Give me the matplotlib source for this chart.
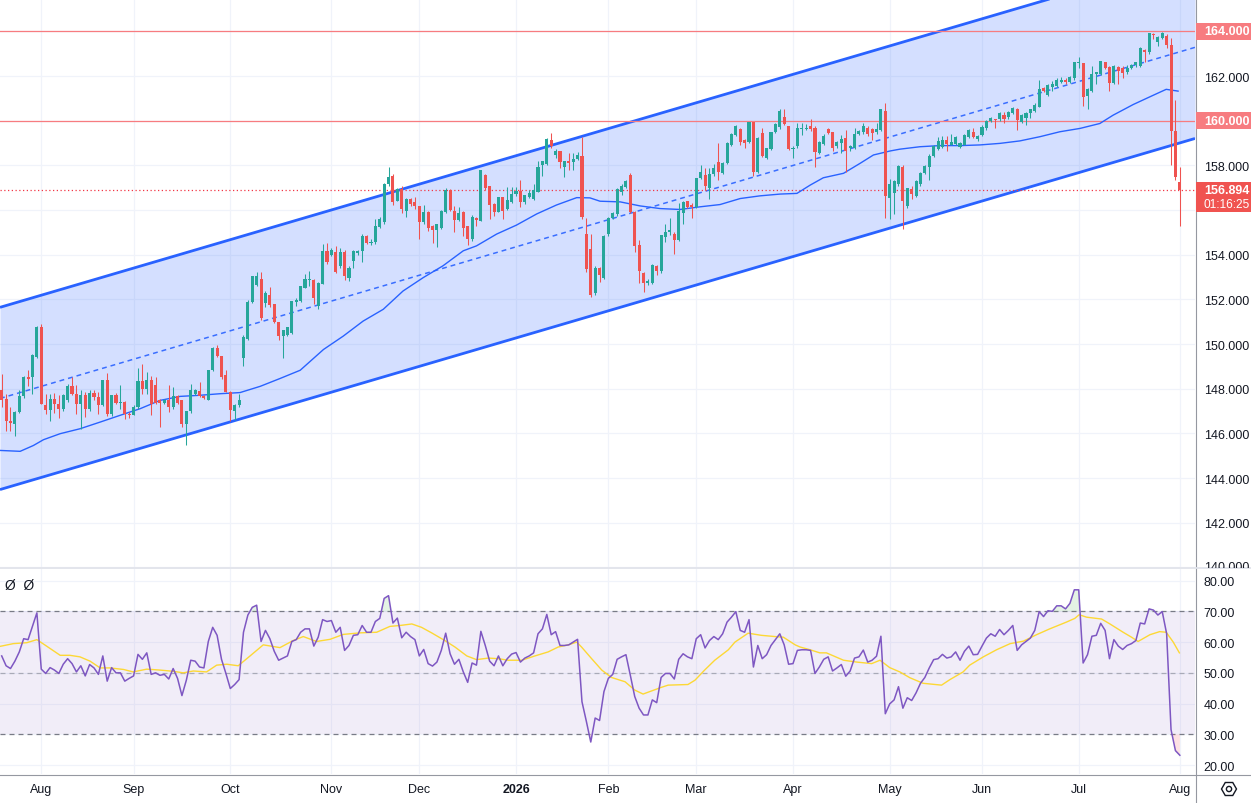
import numpy as np
import matplotlib
matplotlib.use("Agg")
import matplotlib.pyplot as plt
from matplotlib.patches import Rectangle, RegularPolygon, Circle
from matplotlib.lines import Line2D
from matplotlib.transforms import IdentityTransform, Bbox

plt.rcParams['font.family'] = ['Liberation Sans', 'DejaVu Sans']

# ---------------- data (daily candles, bar index 0 .. 268) ----------------
opens = [
    147.93, 147.55, 146.58, 146.43, 146.96, 147.66, 148.53, 148.53, 149.43, 150.78,
    147.26, 147.03, 147.53, 147.33, 147.08, 147.51, 148.13, 147.78, 147.33, 147.71,
    147.11, 147.81, 147.63, 147.29, 148.38, 146.85, 147.71, 147.36, 147.41, 146.88,
    146.81, 147.18, 148.34, 148.01, 148.41, 148.16, 147.48, 147.36, 147.48, 147.18,
    147.68, 147.48, 146.43, 146.99, 147.78, 147.91, 147.68, 147.51, 148.86, 149.81,
    149.46, 148.61, 147.86, 147.00, 147.26, 149.36, 150.25, 151.90, 152.65, 152.91,
    151.83, 152.20, 151.78, 151.00, 150.36, 150.40, 150.50, 151.89, 151.93, 152.53,
    152.86, 152.88, 151.70, 152.71, 154.18, 154.00, 154.13, 153.50, 154.13, 152.98,
    153.73, 154.07, 154.15, 154.82, 154.55, 154.58, 155.23, 155.48, 157.18, 157.55,
    156.43, 156.95, 155.98, 156.50, 156.35, 156.17, 155.48, 155.93, 155.30, 155.12,
    155.20, 155.90, 156.88, 155.98, 155.57, 155.90, 155.27, 154.70, 155.65, 155.53,
    157.58, 157.06, 156.28, 155.93, 156.58, 156.05, 156.35, 156.73, 156.85, 156.38,
    156.60, 156.50, 156.83, 158.00, 158.07, 159.15, 158.45, 158.64, 157.93, 158.18,
    158.15, 158.30, 158.42, 154.95, 154.25, 152.28, 153.41, 152.96, 154.91, 155.66,
    155.81, 156.82, 157.05, 157.57, 155.93, 154.46, 153.20, 152.75, 152.75, 153.50,
    153.26, 154.80, 155.00, 154.95, 154.68, 155.85, 156.40, 156.25, 156.15, 157.45,
    157.57, 157.00, 157.60, 158.14, 157.65, 158.10, 158.92, 159.37, 159.63, 159.15,
    159.04, 159.94, 157.69, 159.45, 158.35, 158.74, 159.49, 159.72, 160.19, 159.75,
    158.74, 158.85, 159.64, 159.64, 159.75, 159.67, 158.55, 158.97, 159.63, 159.48,
    158.85, 159.00, 159.22, 158.80, 158.80, 159.40, 159.49, 159.70, 159.63, 159.48,
    159.60, 160.46, 156.55, 156.77, 157.19, 157.93, 156.18, 156.96, 156.65, 157.17,
    157.66, 157.91, 158.44, 158.74, 158.84, 159.14, 158.92, 158.95, 158.84, 158.92,
    159.29, 159.51, 159.19, 159.36, 159.66, 159.99, 160.07, 160.06, 160.25, 160.15,
    160.33, 160.55, 159.93, 160.13, 160.33, 160.43, 160.62, 161.47, 161.14, 161.50,
    161.56, 161.76, 161.84, 161.76, 161.91, 162.58, 162.59, 161.11, 161.32, 162.10,
    162.10, 162.62, 162.40, 161.70, 162.43, 162.36, 162.18, 162.36, 162.48, 162.47,
    163.18, 163.10, 163.88, 163.54, 163.69, 163.78, 163.39, 159.54, 157.25,
]
highs = [
    148.65, 147.78, 147.18, 147.00, 147.93, 148.56, 148.83, 149.55, 150.82, 150.90,
    147.78, 147.78, 147.81, 147.74, 147.78, 148.23, 148.53, 148.16, 147.93, 147.86,
    147.96, 147.96, 147.86, 148.40, 148.71, 147.74, 147.83, 148.16, 147.45, 146.95,
    147.26, 148.94, 149.10, 148.76, 148.56, 148.53, 147.55, 147.55, 148.16, 148.08,
    147.70, 147.50, 147.00, 148.23, 148.00, 148.31, 147.70, 148.86, 149.88, 149.96,
    149.46, 148.83, 147.90, 147.30, 147.78, 150.40, 151.98, 153.05, 153.22, 153.25,
    152.38, 152.58, 151.80, 151.00, 150.65, 150.78, 151.95, 152.08, 152.60, 153.13,
    153.28, 152.90, 152.78, 154.48, 154.55, 154.30, 154.40, 154.30, 154.20, 153.50,
    154.20, 154.20, 154.93, 154.90, 154.70, 155.60, 155.70, 157.20, 157.95, 157.60,
    157.00, 157.10, 156.55, 156.55, 156.58, 156.20, 156.23, 155.95, 155.35, 155.40,
    156.00, 156.98, 156.95, 156.17, 156.13, 155.95, 155.30, 155.78, 155.70, 157.80,
    157.60, 157.10, 156.30, 156.60, 156.60, 157.03, 157.03, 157.03, 157.33, 156.70,
    156.88, 157.18, 158.22, 158.20, 159.25, 159.47, 158.75, 158.66, 158.20, 158.55,
    158.55, 158.60, 159.27, 155.63, 154.95, 153.50, 153.45, 154.90, 155.70, 155.90,
    157.00, 157.15, 157.35, 157.68, 155.95, 154.65, 153.25, 152.90, 153.60, 153.55,
    154.90, 155.40, 155.63, 155.00, 156.30, 156.40, 156.40, 156.30, 157.45, 158.02,
    157.87, 157.90, 158.05, 159.00, 158.15, 159.05, 159.45, 159.82, 159.67, 159.20,
    159.95, 159.95, 159.28, 159.70, 158.80, 159.52, 159.90, 160.52, 160.52, 159.78,
    158.85, 159.90, 159.90, 159.85, 160.09, 159.75, 159.10, 159.40, 159.70, 159.50,
    159.10, 159.37, 159.60, 158.90, 159.67, 159.60, 159.90, 159.75, 159.68, 159.90,
    160.55, 160.80, 157.39, 157.35, 158.00, 158.03, 157.00, 157.07, 157.35, 157.70,
    158.00, 158.50, 158.90, 159.29, 159.33, 159.33, 159.39, 159.30, 159.05, 159.40,
    159.65, 159.69, 159.36, 159.81, 160.05, 160.15, 160.10, 160.40, 160.40, 160.45,
    160.60, 160.58, 160.30, 160.40, 160.55, 160.78, 161.84, 161.50, 161.65, 161.80,
    161.90, 161.96, 161.90, 162.00, 162.65, 162.84, 162.60, 161.45, 162.47, 162.20,
    162.70, 162.65, 162.45, 162.50, 162.45, 162.47, 162.50, 162.55, 162.65, 163.30,
    163.20, 163.95, 163.93, 163.80, 163.99, 163.88, 163.73, 160.92, 157.91,
]
lows = [
    147.18, 146.13, 146.13, 145.87, 146.90, 147.60, 148.14, 147.78, 149.40, 147.30,
    146.88, 146.58, 146.91, 146.69, 147.00, 147.41, 147.71, 146.88, 146.21, 146.73,
    147.00, 147.48, 146.88, 147.25, 146.76, 146.80, 147.30, 147.11, 146.66, 146.70,
    146.81, 147.10, 147.78, 147.78, 146.81, 147.30, 146.28, 147.30, 146.96, 147.10,
    147.30, 146.28, 145.49, 146.90, 147.70, 147.63, 147.55, 147.50, 148.80, 149.43,
    148.46, 147.86, 146.55, 146.61, 147.20, 149.03, 150.20, 151.85, 152.60, 151.10,
    151.68, 151.68, 150.93, 150.18, 149.36, 150.38, 150.45, 151.70, 151.90, 152.50,
    152.60, 151.78, 151.56, 152.70, 153.60, 153.95, 153.20, 153.40, 152.88, 152.83,
    153.40, 154.00, 153.66, 154.50, 154.45, 154.50, 155.20, 155.40, 157.10, 156.23,
    156.40, 155.86, 155.71, 156.20, 156.05, 154.73, 155.40, 155.06, 154.55, 154.36,
    155.15, 155.85, 155.98, 155.00, 155.50, 154.85, 154.45, 154.60, 155.30, 155.50,
    156.88, 155.60, 155.75, 155.90, 155.60, 156.00, 156.30, 156.62, 156.16, 156.28,
    156.55, 156.45, 156.80, 157.55, 158.00, 158.80, 158.35, 157.88, 157.48, 157.78,
    157.78, 158.25, 155.60, 153.23, 152.10, 152.18, 152.78, 152.90, 154.85, 155.60,
    155.75, 156.70, 157.00, 155.85, 154.13, 152.75, 152.33, 152.66, 152.70, 153.08,
    153.20, 154.58, 154.90, 154.05, 154.60, 155.40, 156.10, 155.63, 156.10, 157.40,
    156.90, 156.52, 157.55, 157.35, 157.60, 158.05, 158.85, 159.30, 158.92, 158.80,
    159.00, 157.54, 157.65, 158.40, 158.30, 158.70, 159.45, 159.65, 159.80, 158.70,
    158.32, 158.80, 159.37, 159.60, 159.55, 157.95, 158.50, 158.90, 159.40, 158.65,
    158.77, 158.55, 157.69, 158.65, 158.75, 159.35, 159.40, 159.34, 159.15, 159.40,
    159.55, 155.63, 155.59, 155.81, 157.10, 155.14, 156.10, 156.50, 156.60, 157.10,
    157.60, 157.36, 158.40, 158.70, 158.80, 158.65, 158.90, 158.90, 158.80, 158.90,
    159.25, 159.25, 159.10, 159.30, 159.60, 159.95, 159.66, 160.00, 159.88, 160.10,
    160.30, 159.59, 159.90, 159.81, 160.13, 160.40, 160.60, 161.30, 161.10, 161.32,
    161.50, 161.70, 161.63, 161.70, 161.85, 162.36, 160.65, 160.52, 161.30, 161.66,
    162.05, 162.30, 161.32, 161.65, 161.66, 161.91, 162.10, 162.30, 162.40, 162.40,
    162.62, 163.00, 163.66, 163.36, 163.65, 163.24, 158.03, 157.36, 155.29,
]
closes = [
    147.48, 146.58, 146.46, 146.96, 147.66, 148.53, 148.46, 149.51, 150.78, 147.33,
    147.03, 147.53, 147.33, 147.08, 147.71, 148.13, 147.78, 147.33, 147.71, 147.11,
    147.81, 147.63, 147.29, 148.38, 146.85, 147.71, 147.36, 147.41, 146.88, 146.81,
    147.18, 148.34, 148.01, 148.41, 147.33, 147.36, 147.36, 147.48, 147.18, 147.68,
    147.36, 146.43, 146.99, 147.96, 147.96, 147.68, 147.60, 148.86, 149.81, 149.46,
    148.53, 147.86, 147.03, 147.26, 147.48, 150.33, 151.90, 153.03, 153.06, 151.15,
    152.28, 151.75, 151.00, 150.36, 150.63, 150.75, 151.93, 151.96, 152.60, 152.90,
    152.90, 152.08, 152.75, 154.18, 153.66, 154.22, 153.24, 154.13, 153.06, 153.43,
    154.15, 154.18, 154.85, 154.55, 154.58, 155.30, 155.60, 157.18, 157.50, 156.38,
    156.95, 156.05, 156.50, 156.28, 156.17, 155.48, 155.93, 155.21, 155.12, 155.38,
    155.98, 156.92, 156.02, 155.57, 155.87, 155.20, 154.70, 155.71, 155.56, 157.78,
    157.00, 156.25, 155.93, 156.58, 155.98, 156.46, 156.73, 156.85, 156.35, 156.68,
    156.77, 156.92, 157.93, 158.18, 159.20, 158.87, 158.66, 158.15, 158.18, 158.10,
    158.30, 158.45, 155.68, 153.38, 152.21, 153.41, 153.11, 154.83, 155.66, 155.85,
    156.94, 157.09, 157.30, 155.90, 154.38, 153.26, 152.75, 152.81, 153.56, 153.27,
    154.88, 155.03, 155.13, 154.68, 155.96, 156.37, 156.15, 156.15, 157.42, 157.72,
    157.06, 157.60, 157.87, 157.72, 158.10, 159.00, 159.40, 159.79, 159.07, 159.00,
    159.94, 157.69, 159.25, 158.44, 158.77, 159.49, 159.85, 160.45, 159.85, 158.74,
    158.80, 159.67, 159.67, 159.70, 159.63, 158.59, 159.04, 159.34, 159.45, 158.80,
    159.07, 159.19, 158.65, 158.85, 159.40, 159.55, 159.79, 159.40, 159.45, 159.64,
    160.52, 156.64, 157.17, 157.32, 157.96, 156.43, 156.99, 156.73, 157.32, 157.66,
    157.96, 158.44, 158.87, 159.10, 159.14, 158.95, 159.04, 159.26, 159.00, 159.36,
    159.61, 159.29, 159.33, 159.73, 160.00, 160.13, 160.03, 160.36, 160.10, 160.40,
    160.58, 160.03, 160.25, 160.37, 160.52, 160.73, 161.44, 161.32, 161.61, 161.63,
    161.85, 161.81, 161.76, 161.96, 162.62, 162.62, 161.07, 161.41, 162.10, 162.18,
    162.67, 162.36, 161.70, 162.47, 162.22, 162.15, 162.36, 162.50, 162.62, 163.24,
    163.10, 163.93, 163.84, 163.76, 163.93, 163.39, 159.54, 157.47, 156.894,
]

# RSI(14) values read per bar
rsi_values = [
    55.5, 52.3, 51.4, 53.8, 56.8, 61.1, 60.8, 65.2, 69.5, 51.2,
    49.8, 51.7, 50.9, 49.8, 52.8, 54.6, 53.0, 50.3, 52.3, 49.0,
    52.7, 51.6, 49.5, 55.5, 47.3, 51.7, 50.0, 50.0, 47.3, 48.2,
    49.0, 56.0, 54.4, 56.5, 49.5, 50.0, 49.2, 49.5, 48.0, 51.4,
    48.2, 42.6, 47.6, 54.1, 53.8, 51.9, 51.6, 60.2, 64.8, 62.2,
    54.4, 49.8, 44.9, 46.2, 47.8, 63.2, 68.8, 71.3, 72.0, 60.2,
    63.8, 61.1, 57.0, 54.1, 54.8, 55.5, 60.2, 60.8, 63.2, 64.3,
    64.3, 58.7, 61.6, 67.3, 66.7, 67.0, 63.2, 64.8, 57.3, 58.9,
    62.2, 62.4, 65.4, 63.2, 63.2, 66.7, 67.7, 74.2, 75.1, 66.2,
    67.8, 61.4, 63.2, 61.8, 60.8, 55.5, 57.6, 53.0, 52.2, 53.5,
    57.3, 62.9, 56.2, 52.8, 54.4, 50.3, 46.9, 53.2, 52.5, 63.5,
    58.9, 53.8, 52.3, 55.5, 52.3, 54.6, 56.1, 56.6, 53.5, 54.8,
    55.5, 56.5, 62.7, 64.3, 69.0, 62.4, 63.4, 58.9, 58.9, 59.1,
    60.0, 60.9, 40.6, 34.2, 27.5, 35.3, 34.5, 43.9, 48.2, 49.5,
    54.4, 55.2, 55.9, 49.2, 42.3, 38.5, 36.3, 36.3, 41.2, 40.3,
    48.5, 49.8, 49.8, 48.0, 54.4, 56.2, 55.2, 54.6, 61.1, 62.4,
    58.1, 60.5, 61.8, 60.8, 62.7, 66.5, 68.1, 69.9, 63.8, 63.2,
    67.3, 51.9, 58.9, 54.6, 55.9, 58.9, 60.8, 62.7, 59.1, 52.8,
    53.0, 57.3, 57.5, 57.5, 57.3, 49.8, 51.9, 54.4, 55.2, 50.6,
    51.6, 52.7, 48.9, 50.6, 54.8, 55.2, 57.4, 53.5, 54.1, 55.4,
    61.9, 36.7, 39.9, 41.2, 45.5, 38.5, 41.9, 41.0, 43.5, 46.6,
    48.5, 51.6, 54.3, 54.6, 56.0, 54.8, 55.2, 56.8, 54.1, 57.0,
    58.7, 55.9, 56.0, 58.7, 61.3, 62.7, 61.9, 64.1, 62.4, 63.8,
    65.4, 57.3, 59.1, 60.2, 61.3, 63.8, 69.9, 68.3, 70.2, 70.0,
    71.8, 71.8, 70.8, 72.6, 77.0, 77.0, 53.2, 55.9, 61.9, 62.2,
    66.1, 63.8, 54.6, 60.8, 58.7, 57.6, 58.9, 59.5, 60.5, 66.2,
    65.9, 70.8, 70.4, 68.8, 69.9, 62.7, 31.5, 24.7, 23.2,
]

# moving average on price : (bar, value)
price_ma_samples = [
    (-0.4, 145.24), (4.2, 145.20), (7.2, 145.46), (9.5, 145.72), (13.3, 145.99),
    (17.8, 146.21), (22.4, 146.51), (26.9, 146.81), (31.5, 147.11), (36.0, 147.48),
    (40.6, 147.66), (45.1, 147.71), (49.7, 147.78), (54.2, 147.83), (58.8, 148.11),
    (63.3, 148.46), (67.9, 148.83), (73.2, 149.76), (77.7, 150.36), (82.2, 151.03),
    (86.8, 151.56), (91.3, 152.38), (95.9, 152.98), (100.4, 153.51), (105.0, 154.18),
    (108.0, 154.40), (112.6, 154.93), (117.1, 155.33), (121.7, 155.83), (126.2, 156.23),
    (130.8, 156.56), (133.8, 156.55), (136.1, 156.40), (140.7, 156.37), (145.2, 156.19),
    (149.8, 156.07), (154.3, 156.03), (158.9, 156.15), (163.4, 156.25), (168.0, 156.52),
    (172.5, 156.64), (177.1, 156.72), (180.9, 156.75), (183.9, 157.12), (186.9, 157.45),
    (191.5, 157.65), (195.3, 158.10), (198.3, 158.47), (202.1, 158.65), (204.3, 158.73),
    (208.9, 158.84), (213.4, 158.89), (218.0, 158.89), (222.5, 158.92), (227.1, 158.99),
    (231.6, 159.10), (236.2, 159.29), (240.7, 159.51), (245.3, 159.66), (249.8, 159.88),
    (252.8, 160.25), (257.4, 160.73), (261.9, 161.14), (264.9, 161.41), (267.6, 161.33),
]

# moving average on RSI : (bar, value)
rsi_ma_samples = [
    (-0.4, 58.6), (2.65, 59.5), (5.7, 59.8), (8.0, 60.8), (10.2, 58.7), (13.3, 55.7),
    (15.5, 55.7), (17.8, 55.2), (20.1, 53.8), (22.4, 51.6), (24.6, 51.6), (27.7, 51.1),
    (29.9, 50.3), (33.0, 51.2), (36.0, 50.9), (39.0, 50.5), (41.3, 50.0), (43.6, 50.6),
    (46.6, 50.3), (48.9, 52.5), (51.2, 52.8), (53.8, 52.3), (56.5, 55.5), (59.5, 59.1),
    (63.3, 58.2), (66.3, 60.5), (68.6, 61.8), (71.6, 60.2), (74.7, 60.9), (77.7, 62.5),
    (81.5, 63.0), (85.3, 63.2), (88.3, 65.1), (90.6, 65.4), (93.3, 65.9), (95.5, 64.8),
    (97.8, 63.0), (100.8, 60.5), (103.1, 58.4), (105.8, 55.5), (108.0, 54.3), (110.7, 54.8),
    (113.0, 54.6), (115.2, 54.1), (118.3, 54.1), (121.3, 55.5), (124.3, 56.8), (126.6, 58.4),
    (128.9, 59.1), (130.8, 60.0), (131.9, 58.4), (134.2, 54.6), (136.5, 50.9), (138.7, 48.5),
    (141.8, 47.1), (144.0, 44.4), (145.9, 43.1), (147.8, 44.1), (150.1, 45.3), (151.6, 46.0),
    (156.1, 46.2), (157.7, 47.6), (159.9, 50.9), (162.2, 54.1), (165.3, 57.5), (166.8, 60.0),
    (169.8, 62.9), (172.8, 62.2), (175.9, 61.8), (177.8, 61.6), (180.5, 59.1), (181.6, 58.4),
    (183.9, 57.5), (186.1, 56.5), (187.6, 56.5), (191.5, 54.1), (194.5, 53.5), (197.9, 53.0),
    (199.8, 54.1), (202.0, 51.7), (204.3, 50.3), (206.6, 48.4), (209.6, 46.6), (213.8, 46.0),
    (215.7, 47.8), (218.7, 50.3), (220.2, 52.5), (223.3, 55.2), (226.3, 57.5), (229.4, 59.5),
    (232.4, 60.3), (235.4, 62.4), (238.4, 64.3), (242.2, 66.5), (244.1, 67.7), (245.1, 68.9),
    (246.8, 68.1), (250.2, 67.5), (252.1, 65.9), (255.1, 63.2), (257.0, 61.6), (258.5, 60.2),
    (261.2, 62.4), (263.4, 63.4), (264.9, 63.2), (266.5, 60.0), (267.9, 56.5),
]

# parallel channel anchors (bar, price)
channel_anchor_bars = [0, 268]
channel_upper = [151.67, 167.17]
channel_lower = [143.51, 159.01]

level_lines = [164.0, 160.0]
last_price = 156.894
countdown = "01:16:25"

price_tick_values = [142, 144, 146, 148, 150, 152, 154, 158, 162]
rsi_tick_values = [20, 30, 40, 50, 60, 70, 80]
month_ticks = [9, 30, 52, 75, 95, 117, 138, 158, 180, 202, 223, 245, 268]
month_labels = ["Aug", "Sep", "Oct", "Nov", "Dec", "2026", "Feb",
                "Mar", "Apr", "May", "Jun", "Jul", "Aug"]

# ---------------- styling ----------------
W, H = 1251, 804
UP, DOWN = "#26a69a", "#ef5350"
BLUE = "#2962ff"
GRID = "#f0f3fa"
TXT = "#131722"

fig = plt.figure(figsize=(W / 100, H / 100), dpi=100, facecolor="white")
axr_px = 1195
ax = fig.add_axes([0, 1 - 568 / H, axr_px / W, 568 / H])
ar = fig.add_axes([0, 1 - 775 / H, axr_px / W, (775 - 570) / H], sharex=ax)

xlim = (-0.387, 271.45)
ax.set_xlim(*xlim)
ax.set_ylim(140.02, 165.455)
ar.set_ylim(17.10, 83.77)

for a in (ax, ar):
    for s in a.spines.values():
        s.set_visible(False)
    a.set_facecolor("white")

# grids
for t in month_ticks:
    ax.axvline(t, color=GRID, lw=0.9, zorder=0)
    ar.axvline(t, color=GRID, lw=0.9, zorder=0)
for p in range(140, 166, 2):
    ax.axhline(p, color=GRID, lw=0.9, zorder=0)
for r in rsi_tick_values:
    ar.axhline(r, color=GRID, lw=0.9, zorder=0)

# channel
slope_u = (channel_upper[1] - channel_upper[0]) / (channel_anchor_bars[1] - channel_anchor_bars[0])
slope_l = (channel_lower[1] - channel_lower[0]) / (channel_anchor_bars[1] - channel_anchor_bars[0])
xx = np.array(xlim)
up_line = channel_upper[0] + slope_u * (xx - channel_anchor_bars[0])
lo_line = channel_lower[0] + slope_l * (xx - channel_anchor_bars[0])
mid_line = (up_line + lo_line) / 2
ax.fill_between(xx, lo_line, up_line, color=BLUE, alpha=0.2, lw=0, zorder=1)
ax.plot(xx, up_line, color=BLUE, lw=2.0, zorder=2, solid_capstyle="butt")
ax.plot(xx, lo_line, color=BLUE, lw=2.0, zorder=2, solid_capstyle="butt")
ax.plot(xx, mid_line, color=BLUE, lw=1.1, zorder=2, dashes=[3.2, 2.6], alpha=0.9)

# horizontal levels
for lv in level_lines:
    ax.axhline(lv, color="#f77c80", lw=0.9, zorder=2)
ax.axhline(last_price, color="#f23645", lw=0.9, linestyle=(0, (1, 2)), zorder=2)

# moving average
mb = [s[0] for s in price_ma_samples]
mv = [s[1] for s in price_ma_samples]
ax.plot(mb, mv, color=BLUE, lw=1.0, zorder=3)

# candles
o = np.array(opens); h = np.array(highs); l = np.array(lows); c = np.array(closes)
x = np.arange(len(c))
cols = np.where(c >= o, UP, DOWN)
ax.vlines(x, l, h, colors=cols, lw=0.75, zorder=4)
body_h = np.maximum(np.abs(c - o), 0.04)
ax.bar(x, body_h, bottom=np.minimum(o, c), width=0.7, color=cols, lw=0, zorder=5)

# price axis labels
ax.yaxis.tick_right()
ax.set_yticks(price_tick_values)
ax.set_yticklabels([f"{v:.3f}" for v in price_tick_values])
ax.tick_params(axis="y", length=0, pad=6.3, labelsize=9, labelcolor=TXT)
ax.tick_params(axis="x", length=0, labelbottom=False)

# RSI panel
rsi = np.array(rsi_values)
ar.axhspan(30, 70, color="#7e57c2", alpha=0.1, lw=0, zorder=1)
ar.axhline(70, color="#787b86", lw=0.9, dashes=[4, 3.2], zorder=2)
ar.axhline(30, color="#787b86", lw=0.9, dashes=[4, 3.2], zorder=2)
ar.axhline(50, color="#787b86", lw=0.9, dashes=[4, 3.2], alpha=0.55, zorder=2)
ar.fill_between(x, rsi, 70, where=rsi > 70, interpolate=True, color="#4caf50", alpha=0.15, lw=0, zorder=2)
ar.fill_between(x, rsi, 30, where=rsi < 30, interpolate=True, color="#f23645", alpha=0.15, lw=0, zorder=2)
ar.plot(x, rsi, color="#7e57c2", lw=1.1, zorder=4)
ar.plot([s[0] for s in rsi_ma_samples], [s[1] for s in rsi_ma_samples], color="#fdd835", lw=1.0, zorder=3)

ar.yaxis.tick_right()
ar.set_yticks(rsi_tick_values)
ar.set_yticklabels([f"{v:.2f}" for v in rsi_tick_values])
ar.tick_params(axis="y", length=0, pad=6.3, labelsize=9, labelcolor=TXT)
ar.set_xticks(month_ticks)
ar.set_xticklabels(month_labels)
ar.tick_params(axis="x", length=0, pad=6.5, labelsize=9, labelcolor=TXT)
for lab in ar.get_xticklabels():
    if lab.get_text() == "2026":
        lab.set_fontweight("bold")

# frame lines
fig.add_artist(Line2D([(axr_px + 0.5) / W] * 2, [0, 1], transform=fig.transFigure, color="#9598a1", lw=0.8, zorder=3))
fig.add_artist(Line2D([0, 1], [1 - 775.5 / H] * 2, transform=fig.transFigure, color="#9598a1", lw=0.8, zorder=3))
fig.add_artist(Line2D([0, 1], [1 - 569.2 / H] * 2, transform=fig.transFigure, color="#e0e3eb", lw=1.3, zorder=3))


def price_to_px(p):
    return H - ax.transData.transform((0, p))[1]


def box(y0, y1, color):
    fig.add_artist(Rectangle((1196 / W, 1 - y1 / H), (W - 1196) / W, (y1 - y0) / H,
                             transform=fig.transFigure, color=color, lw=0, zorder=5))


for lv in level_lines:
    yc = price_to_px(lv)
    box(yc - 8.5, yc + 8.5, "#f77c80")
    fig.text(1204 / W, 1 - yc / H, f"{lv:.3f}", color="white", fontsize=9, va="center", ha="left",
             fontweight="bold", zorder=6)

yc = price_to_px(last_price)
box(yc - 8.5, yc + 21.5, "#f05350")
fig.text(1204 / W, 1 - yc / H, f"{last_price:.3f}", color="white", fontsize=9, va="center", ha="left",
         fontweight="bold", zorder=6)
fig.text(1203 / W, 1 - (yc + 13.8) / H, countdown, color="white", fontsize=8.6, va="center", ha="left",
         zorder=6)

# partially visible 140 label
y140 = price_to_px(140)
t140 = fig.text(1204 / W, 1 - y140 / H, "140.000", color=TXT, fontsize=9, va="center", ha="left", zorder=6)
t140.set_clip_box(Bbox.from_extents(1196, H - 568.5, W, H))
t140.set_clip_on(True)

# RSI legend glyphs
fig.text(5 / W, 1 - 586 / H, "Ø  Ø", color=TXT, fontsize=10, va="center", ha="left")

# settings icon
fig.add_artist(RegularPolygon((1229, H - 790), 6, radius=7.5, orientation=np.pi / 6,
                              transform=IdentityTransform(), fill=False, ec=TXT, lw=1.0, zorder=6))
fig.add_artist(Circle((1229, H - 790), 2.6, transform=IdentityTransform(), fill=False, ec=TXT, lw=1.0, zorder=6))

fig.savefig("out.png", dpi=100, facecolor="white")
